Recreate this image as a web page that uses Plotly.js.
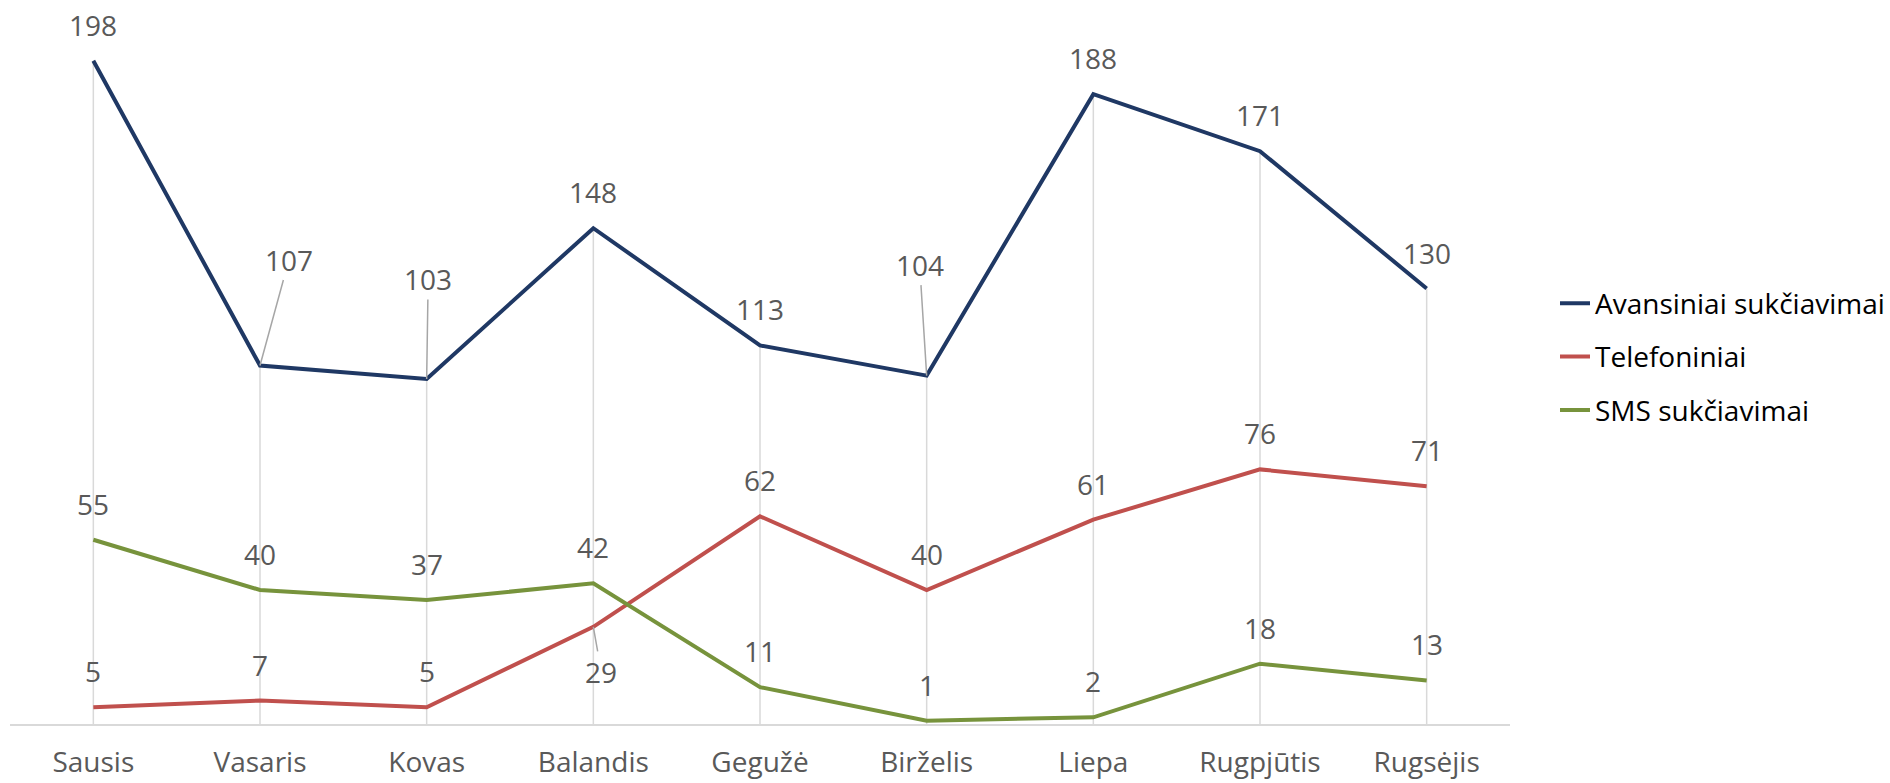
<!DOCTYPE html>
<html>
<head>
<meta charset="utf-8">
<script src="https://cdn.plot.ly/plotly-3.0.1.min.js"></script>
<style>
  html, body { margin: 0; padding: 0; background: #ffffff; }
  #chart { width: 1890px; height: 783px; }
</style>
</head>
<body>
<div id="chart"></div>
<script>
// ---- Data ----
const months = ['Sausis', 'Vasaris', 'Kovas', 'Balandis', 'Gegužė', 'Birželis', 'Liepa', 'Rugpjūtis', 'Rugsėjis'];
const avansiniai = [198, 107, 103, 148, 113, 104, 188, 171, 130];
const telefoniniai = [5, 7, 5, 29, 62, 40, 61, 76, 71];
const sms = [55, 40, 37, 42, 11, 1, 2, 18, 13];
const seriesNames = ['Avansiniai sukčiavimai', 'Telefoniniai', 'SMS sukčiavimai'];

// ---- Styles ----
const FONT = '"Open Sans", "Liberation Sans", sans-serif';
const colors = ['#1F3864', '#C0504D', '#77933C'];
const labelColor = '#595959';
const series = [avansiniai, telefoniniai, sms];

// label placements (pixels) for labels moved off their default spot, with leader lines
const leaderOffsets = [
  {1: [29, -106], 2: [1.5, -100], 5: [-7, -111]},
  {3: [8, 45]},
  {}
];

const traces = [];

// drop lines: from the axis up to the highest series value in each category
const dropX = [], dropY = [];
months.forEach((m, i) => {
  const top = Math.max(...series.map(s => s[i]));
  dropX.push(m, m, null);
  dropY.push(0, top, null);
});
traces.push({
  x: dropX, y: dropY, type: 'scatter', mode: 'lines',
  line: {color: '#D9D9D9', width: 1.5},
  hoverinfo: 'skip', showlegend: false
});

series.forEach((s, k) => {
  traces.push({
    x: months, y: s, type: 'scatter', mode: 'lines',
    name: seriesNames[k], legendgroup: 'g' + k,
    line: {color: colors[k], width: 4}
  });
});

const annotations = [];
series.forEach((s, k) => {
  s.forEach((v, i) => {
    const off = leaderOffsets[k][i];
    if (off) {
      annotations.push({
        x: months[i], y: v, xref: 'x', yref: 'y',
        text: String(v), showarrow: true, arrowhead: 0, arrowwidth: 1.5,
        arrowcolor: '#A6A6A6', ax: off[0], ay: off[1], standoff: 0,
        font: {family: FONT, size: 28, color: labelColor}
      });
    } else {
      annotations.push({
        x: months[i], y: v, xref: 'x', yref: 'y',
        text: String(v), showarrow: false, yanchor: 'middle', yshift: 36,
        font: {family: FONT, size: 28, color: labelColor}
      });
    }
  });
});

const layout = {
  width: 1890, height: 783,
  margin: {l: 10, r: 380, t: 54, b: 59, autoexpand: false},
  paper_bgcolor: '#ffffff', plot_bgcolor: '#ffffff',
  font: {family: FONT, size: 28, color: labelColor},
  showlegend: true,
  legend: {
    x: 1.03, xanchor: 'left', y: 0.665, yanchor: 'top',
    font: {family: FONT, size: 28, color: '#000000'},
    traceorder: 'grouped', tracegroupgap: 14,
    bgcolor: 'rgba(0,0,0,0)'
  },
  xaxis: {
    type: 'category', range: [-0.5, 8.5],
    showgrid: false, zeroline: false,
    showline: true, linecolor: '#D9D9D9', linewidth: 2,
    ticks: '', ticklabelstandoff: 12,
    tickfont: {family: FONT, size: 28, color: labelColor},
    fixedrange: true
  },
  yaxis: {
    range: [0, 200], showgrid: false, zeroline: false, showline: false,
    showticklabels: false, ticks: '', fixedrange: true
  },
  annotations: annotations
};

Plotly.newPlot('chart', traces, layout, {displayModeBar: false, staticPlot: true});
</script>
</body>
</html>
